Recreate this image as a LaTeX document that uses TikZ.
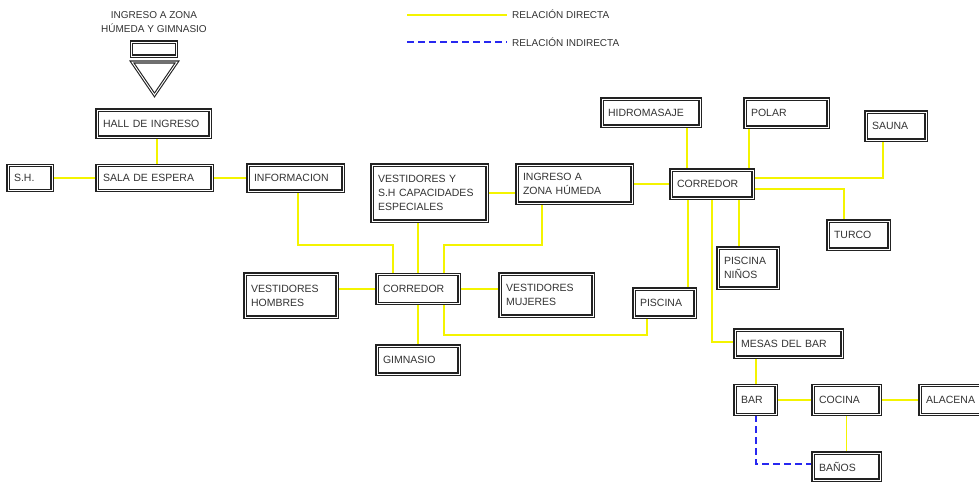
\documentclass[tikz,border=0pt]{standalone}
\usepackage{fontspec}
\setmainfont{Liberation Sans}
\usetikzlibrary{shadows}
\definecolor{ink}{HTML}{222222}
\definecolor{txt}{HTML}{333333}
\definecolor{linkyellow}{HTML}{F4F400}
\definecolor{linkblue}{HTML}{2828F0}
\pgfdeclarelayer{paper}
\pgfdeclarelayer{links}
\pgfsetlayers{paper,links,main}

\begin{document}
\begin{tikzpicture}[x=1pt,y=-1pt,
  box/.style={draw=ink, line width=1.1pt, double=white, double distance=0.9pt, fill=white,
    drop shadow={shadow xshift=1.8pt, shadow yshift=-1.8pt, fill=gray, opacity=0.8},
    inner xsep=6pt, inner ysep=2pt, align=left, text=txt,
    font=\fontsize{10.5}{14}\selectfont},
  direct/.style={draw=linkyellow, line width=1.4pt},
  indirect/.style={draw=linkblue, line width=1.3pt, dash pattern=on 7pt off 4pt},
  lbl/.style={text=txt, font=\fontsize{10}{14}\selectfont, inner sep=0pt}]

\begin{pgfonlayer}{paper}
\fill[white] (0,0) rectangle (979,483);
\end{pgfonlayer}
\useasboundingbox (0,0) rectangle (979,483);

% entrance marker
\node[lbl, align=center] (title) at (154,22) {INGRESO A ZONA\\HÚMEDA Y GIMNASIO};
\node[box, minimum width=45, minimum height=14, inner sep=0pt] (entrybar) at (154,49) {};
\draw[draw=ink, line width=1.1pt, double=white, double distance=0.9pt, line join=miter]
  (132,62) -- (177,62) -- (154.5,95) -- cycle;

% legend
\coordinate (l1) at (407,15); \coordinate (l2) at (507,15);
\coordinate (l3) at (407,42); \coordinate (l4) at (507,42);
\draw[direct] (l1) -- (l2);
\draw[indirect] (l3) -- (l4);
\node[lbl, anchor=west] (ldir) at (512,14) {RELACIÓN DIRECTA};
\node[lbl, anchor=west] (lind) at (512,42) {RELACIÓN INDIRECTA};

% rooms
\node[box, minimum width=113, minimum height=27, text width=101pt] (hall) at (153.5,123.5) {HALL DE INGRESO};
\node[box, minimum width=115, minimum height=25, text width=103pt] (sala) at (154.5,178) {SALA DE ESPERA};
\node[box, minimum width=44, minimum height=25, text width=32pt] (sh) at (30,178) {S.H.};
\node[box, minimum width=95, minimum height=26, text width=83pt] (info) at (295.5,178) {INFORMACION};
\node[box, minimum width=115, minimum height=56, text width=103pt] (vsh) at (429.5,193)
  {\mbox{VESTIDORES Y}\\\mbox{S.H CAPACIDADES}\\ESPECIALES};
\node[box, minimum width=115, minimum height=38, text width=103pt] (ingz) at (574.5,184)
  {INGRESO A\\\mbox{ZONA HÚMEDA}};
\node[box, minimum width=92, minimum height=43, text width=80pt] (vh) at (291,295.5) {VESTIDORES\\HOMBRES};
\node[box, minimum width=82, minimum height=29, text width=70pt] (cor1) at (418,289) {CORREDOR};
\node[box, minimum width=93, minimum height=42, text width=81pt] (vm) at (546.5,295) {VESTIDORES\\MUJERES};
\node[box, minimum width=82, minimum height=28, text width=70pt] (gim) at (418,360) {GIMNASIO};
\node[box, minimum width=98, minimum height=27, text width=86pt] (hid) at (651,112.5) {HIDROMASAJE};
\node[box, minimum width=83, minimum height=28, text width=71pt] (polar) at (786.5,113) {POLAR};
\node[box, minimum width=60, minimum height=28, text width=48pt] (sauna) at (896,126) {SAUNA};
\node[box, minimum width=82, minimum height=28, text width=70pt] (cor2) at (712,184) {CORREDOR};
\node[box, minimum width=61, minimum height=28, text width=49pt] (turco) at (858.5,235) {TURCO};
\node[box, minimum width=60, minimum height=40, text width=48pt] (pn) at (748,268) {PISCINA\\NIÑOS};
\node[box, minimum width=61, minimum height=28, text width=49pt] (pisc) at (664.5,303) {PISCINA};
\node[box, minimum width=107, minimum height=27, text width=95pt] (mesas) at (788.5,343.5) {MESAS DEL BAR};
\node[box, minimum width=41, minimum height=29, text width=29pt] (bar) at (755.5,400) {BAR};
\node[box, minimum width=67, minimum height=29, text width=55pt] (cocina) at (846.5,400) {COCINA};
\node[box, minimum width=70, minimum height=29, text width=58pt] (alacena) at (955,400) {ALACENA};
\node[box, minimum width=67, minimum height=27, text width=55pt] (banos) at (846.5,466.5) {BAÑOS};

% relations
\begin{pgfonlayer}{links}
\coordinate (k0) at (157,0);
\draw[direct] (hall.south -| k0) -- (sala.north -| k0);
\draw[direct] (sh.east) -- (sala.west);
\draw[direct] (sala.east) -- (info.west |- sala.east);
\coordinate (k1) at (298,245); \coordinate (k2) at (393,245);
\draw[direct] (info.south -| k1) -- (k1) -- (k2) -- (cor1.north -| k2);
\draw[direct] (vsh.south -| cor1.north) -- (cor1.north);
\coordinate (k3) at (542,245); \coordinate (k4) at (444,245);
\draw[direct] (ingz.south -| k3) -- (k3) -- (k4) -- (cor1.north -| k4);
\coordinate (k5) at (0,193);
\draw[direct] (vsh.east |- k5) -- (ingz.west |- k5);
\draw[direct] (ingz.east |- cor2.west) -- (cor2.west);
\draw[direct] (vh.east |- cor1.west) -- (cor1.west);
\draw[direct] (cor1.east) -- (vm.west |- cor1.east);
\draw[direct] (cor1.south) -- (gim.north);
\coordinate (k6) at (444,335); \coordinate (k7) at (647,335);
\draw[direct] (cor1.south -| k6) -- (k6) -- (k7) -- (pisc.south -| k7);
\coordinate (k8) at (687,0);
\draw[direct] (hid.south -| k8) -- (cor2.north -| k8);
\coordinate (k9) at (749,0);
\draw[direct] (polar.south -| k9) -- (cor2.north -| k9);
\coordinate (k10) at (883,178);
\draw[direct] (sauna.south -| k10) -- (k10) -- (cor2.east |- k10);
\coordinate (k11) at (844,189);
\draw[direct] (cor2.east |- k11) -- (k11) -- (turco.north -| k11);
\coordinate (k12) at (688,0);
\draw[direct] (cor2.south -| k12) -- (pisc.north -| k12);
\coordinate (k13) at (712,342);
\draw[direct] (cor2.south -| k13) -- (k13) -- (mesas.west |- k13);
\coordinate (k14) at (739,0);
\draw[direct] (cor2.south -| k14) -- (pn.north -| k14);
\coordinate (k15) at (756,0);
\draw[direct] (mesas.south -| k15) -- (bar.north -| k15);
\draw[direct] (bar.east) -- (cocina.west);
\draw[direct] (cocina.east) -- (alacena.west);
\draw[direct] (cocina.south) -- (banos.north);
\coordinate (k16) at (756,464);
\draw[indirect] (bar.south -| k16) -- (k16) -- (banos.west |- k16);
\end{pgfonlayer}
\end{tikzpicture}
\end{document}
